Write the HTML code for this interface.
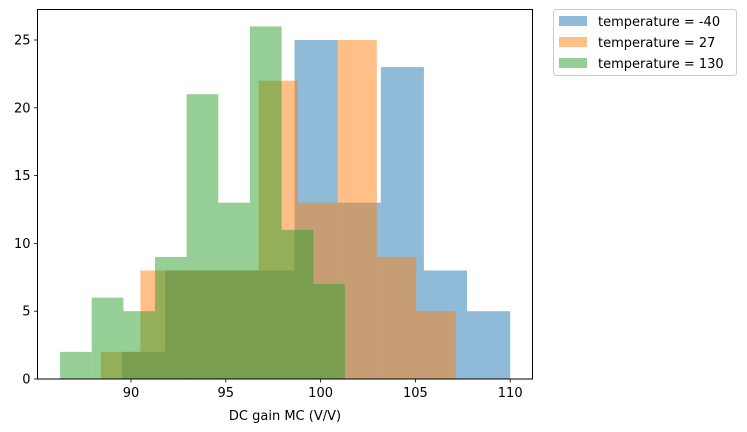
<!DOCTYPE html>
<html><head><meta charset="utf-8"><style>
body{margin:0;background:#fff;}
svg{display:block;font-family:"DejaVu Sans","Liberation Sans",sans-serif;}
</style></head><body>
<svg id="chart" width="747" height="432"></svg>
<script>
const seriesNames = ["temperature = -40","temperature = 27","temperature = 130"];
const seriesColors = ["#1f77b4","#ff7f0e","#2ca02c"];
const blueRange = [89.525, 110.0];
const blueCounts = [2,8,8,8,25,13,23,8,5];
const orangeRange = [88.42, 107.12];
const orangeCounts = [2,8,8,8,22,13,25,9,5];
const greenRange = [86.26, 101.28];
const greenCounts = [2,6,5,9,21,13,26,11,7];
const xTicks = [90,95,100,105,110];
const yTicks = [0,5,10,15,20,25];

const svg = document.getElementById('chart');
const NS = "http://www.w3.org/2000/svg";
const L=37.5, R=532.5, T=9.5, B=379;
const xMin=85.24, xMax=111.36, yMax=27.2;
const xs = v => 131 + (v-90)*18.96;
const ys = v => B - v*13.56;
function mk(tag, attrs){const e=document.createElementNS(NS,tag);for(const k in attrs)e.setAttribute(k,attrs[k]);svg.appendChild(e);return e;}

const ranges=[blueRange,orangeRange,greenRange];
const counts=[blueCounts,orangeCounts,greenCounts];
const keys=['neg40','27','130'];
for(let s=0;s<3;s++){
  const n=counts[s].length, w=(ranges[s][1]-ranges[s][0])/n;
  for(let i=0;i<n;i++){
    const x0=xs(ranges[s][0]+i*w), x1=xs(ranges[s][0]+(i+1)*w);
    const r=mk('rect',{x:x0,y:ys(counts[s][i]),width:x1-x0,height:ys(0)-ys(counts[s][i]),fill:seriesColors[s],'fill-opacity':0.5});
    
    
  }
}
const frame=mk('rect',{x:L,y:T,width:R-L,height:B-T,fill:'none',stroke:'#000','stroke-width':1});


xTicks.forEach(v=>{
  const x=xs(v);
  const t=mk('line',{x1:x,x2:x,y1:B,y2:B+3.5,stroke:'#000','stroke-width':0.8});
  
  
  const l=mk('text',{x:x,y:B+18,'text-anchor':'middle','font-size':13,fill:'#000'});
  l.textContent=v;
  
  
});
yTicks.forEach(v=>{
  const y=ys(v);
  const t=mk('line',{x1:L-3.5,x2:L,y1:y,y2:y,stroke:'#000','stroke-width':0.8});
  
  
  const l=mk('text',{x:L-7,y:y+4.5,'text-anchor':'end','font-size':13,fill:'#000'});
  l.textContent=v;
  
  
});
const xt=mk('text',{x:(L+R)/2,y:420,'text-anchor':'middle','font-size':13,fill:'#000'});
xt.textContent='DC gain MC (V/V)';



const lg=mk('rect',{x:553.5,y:9.5,width:183,height:66,rx:3,fill:'#fff',stroke:'#ccc','stroke-width':1});


for(let s=0;s<3;s++){
  const cy=21+s*21;
  const p=mk('rect',{x:559,y:cy-5,width:28,height:10,fill:seriesColors[s],'fill-opacity':0.5});
  
  
  const t=mk('text',{x:598,y:cy+5,'font-size':13,fill:'#000'});
  t.textContent=seriesNames[s];
  
  
}
</script>
</body></html>
